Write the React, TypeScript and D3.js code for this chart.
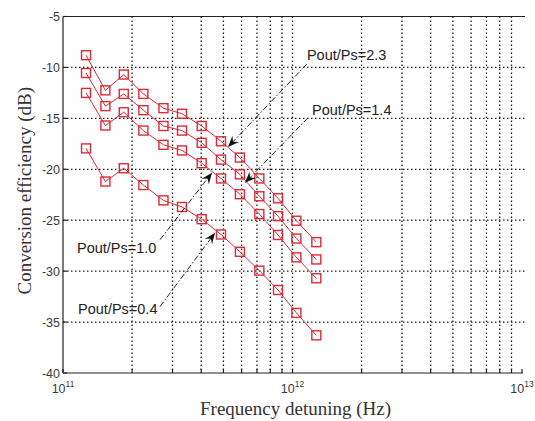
import * as d3 from "d3"

// frequency detuning (Hz) of each measured point
const freqs = [1.26e11, 1.53e11, 1.84e11, 2.24e11, 2.74e11, 3.3e11, 4.02e11, 4.88e11, 5.9e11, 7.17e11, 8.65e11, 1.04e12, 1.27e12]

// conversion efficiency (dB) per Pout/Ps ratio
const eff23 = [-8.8, -12.25, -10.7, -12.6, -14.0, -14.55, -15.75, -17.25, -18.85, -20.9, -22.85, -25.05, -27.15]
const eff14 = [-10.55, -13.8, -12.6, -14.2, -15.75, -16.2, -17.4, -19.05, -20.5, -22.65, -24.6, -26.8, -28.85]
const eff10 = [-12.5, -15.7, -14.4, -16.2, -17.6, -18.15, -19.4, -20.9, -22.45, -24.4, -26.45, -28.65, -30.7]
const eff04 = [-17.95, -21.2, -19.9, -21.55, -23.05, -23.7, -24.9, -26.4, -28.1, -29.95, -31.85, -34.1, -36.3]

const series = [eff23, eff14, eff10, eff04]

const yTicks = [-40, -35, -30, -25, -20, -15, -10, -5]
const xDecades = [11, 12, 13]

// annotation: label, text anchor (f, dB), arrow tail (f, dB), arrow tip (f, dB)
const notes = [
  { label: "Pout/Ps=2.3", tx: 1.156e12, ty: -9.26, fx: 1.156e12, fy: -9.66, px: 5.24e11, py: -17.8 },
  { label: "Pout/Ps=1.4", tx: 1.217e12, ty: -14.66, fx: 1.168e12, fy: -14.95, px: 6.21e11, py: -21.32 },
  { label: "Pout/Ps=1.0", tx: 1.151e11, ty: -28.19, fx: 2.647e11, fy: -26.91, px: 4.46e11, py: -20.34 },
  { label: "Pout/Ps=0.4", tx: 1.163e11, ty: -34.17, fx: 2.647e11, fy: -33.48, px: 4.596e11, py: -26.23 },
]

const W = 535
const H = 421
const left = 63
const right = 522
const top = 16.5
const bottom = 373

export default function App() {
  const x = d3.scaleLog().domain([1e11, 1e13]).range([left, right])
  const y = d3.scaleLinear().domain([-40, -5]).range([bottom, top])

  const minor: number[] = []
  for (const d of [11, 12]) {
    for (let k = 2; k <= 9; k++) minor.push(k * Math.pow(10, d))
  }
  const allX = [...xDecades.map((d) => Math.pow(10, d)), ...minor]

  const line = d3
    .line<number>()
    .x((_, i) => x(freqs[i]))
    .y((v) => y(v))

  const red = "#dc2a36"
  const sans = "Liberation Sans, Arial, sans-serif"
  const serif = "Liberation Serif, Times New Roman, serif"
  const ms = 9

  const arrowHead = (x1: number, y1: number, x2: number, y2: number) => {
    const dx = x2 - x1
    const dy = y2 - y1
    const len = Math.hypot(dx, dy)
    const ux = dx / len
    const uy = dy / len
    const nx = -uy
    const ny = ux
    const L = 11
    const w = 4.5
    const p = [
      [x2, y2],
      [x2 - L * ux + w * nx, y2 - L * uy + w * ny],
      [x2 - 0.65 * L * ux, y2 - 0.65 * L * uy],
      [x2 - L * ux - w * nx, y2 - L * uy - w * ny],
    ]
    return "M" + p.map((q) => q.join(",")).join("L") + "Z"
  }

  return (
    <svg width={W} height={H} style={{ position: "absolute", left: 0, top: 0, background: "#fff" }}>
      {/* grid */}
      <g stroke="#1a1a1a" strokeWidth={1.3} strokeDasharray="1.5,2.5">
        {allX
          .filter((v) => v > 1e11 && v < 1e13)
          .map((v) => (
            <line key={"gx" + v} x1={x(v)} x2={x(v)} y1={top} y2={bottom} />
          ))}
        {yTicks
          .filter((v) => v > -40 && v < -5)
          .map((v) => (
            <line key={"gy" + v} x1={left} x2={right + 3} y1={y(v)} y2={y(v)} />
          ))}
      </g>

      {/* axes */}
      <g stroke="#222" strokeWidth={1.2} fill="none">
        <line x1={left} x2={right + 3} y1={top} y2={top} />
        <line x1={left} x2={right + 1} y1={bottom} y2={bottom} />
        <line x1={left} x2={left} y1={top} y2={bottom} />
        {allX.map((v) => (
          <line key={"tb" + v} x1={x(v)} x2={x(v)} y1={bottom} y2={bottom - 4} />
        ))}
        {yTicks.map((v) => (
          <line key={"tl" + v} x1={left} x2={left + 4} y1={y(v)} y2={y(v)} />
        ))}
      </g>

      {/* tick labels */}
      <g fontFamily={sans} fontSize={12.5} fill="#3a3a3a">
        {yTicks.map((v) => (
          <text key={"ly" + v} x={left - 3} y={y(v) + 4.5} textAnchor="end">
            {"-" + Math.abs(v)}
          </text>
        ))}
        {xDecades.map((d) => (
          <text key={"lx" + d} x={x(Math.pow(10, d))} y={bottom + 20} textAnchor="middle">
            10
            <tspan fontSize={8.5} dy={-6}>
              {d}
            </tspan>
          </text>
        ))}
      </g>

      {/* axis titles */}
      <text x={(left + right) / 2 + 3} y={415} textAnchor="middle" fontFamily={serif} fontSize={19} fill="#333">
        Frequency detuning (Hz)
      </text>
      <text
        transform={`translate(31,${(top + bottom) / 2 - 4}) rotate(-90)`}
        textAnchor="middle"
        fontFamily={serif}
        fontSize={19}
        fill="#333"
      >
        Conversion efficiency (dB)
      </text>

      {/* data */}
      {series.map((s, si) => (
        <g key={"s" + si}>
          <path d={line(s) ?? ""} fill="none" stroke={red} strokeWidth={1} />
          {s.map((v, i) => (
            <rect
              key={i}
              x={x(freqs[i]) - ms / 2}
              y={y(v) - ms / 2}
              width={ms}
              height={ms}
              fill="none"
              stroke={red}
              strokeWidth={1.4}
            />
          ))}
        </g>
      ))}

      {/* annotations */}
      {notes.map((n) => {
        const x1 = x(n.fx)
        const y1 = y(n.fy)
        const x2 = x(n.px)
        const y2 = y(n.py)
        return (
          <g key={n.label}>
            <line x1={x1} y1={y1} x2={x2} y2={y2} stroke="#111" strokeWidth={0.9} strokeDasharray="6,2,1.5,2" />
            <path d={arrowHead(x1, y1, x2, y2)} fill="#111" />
            <text x={x(n.tx)} y={y(n.ty)} fontFamily={sans} fontSize={14.5} fill="#222">
              {n.label}
            </text>
          </g>
        )
      })}
    </svg>
  )
}
